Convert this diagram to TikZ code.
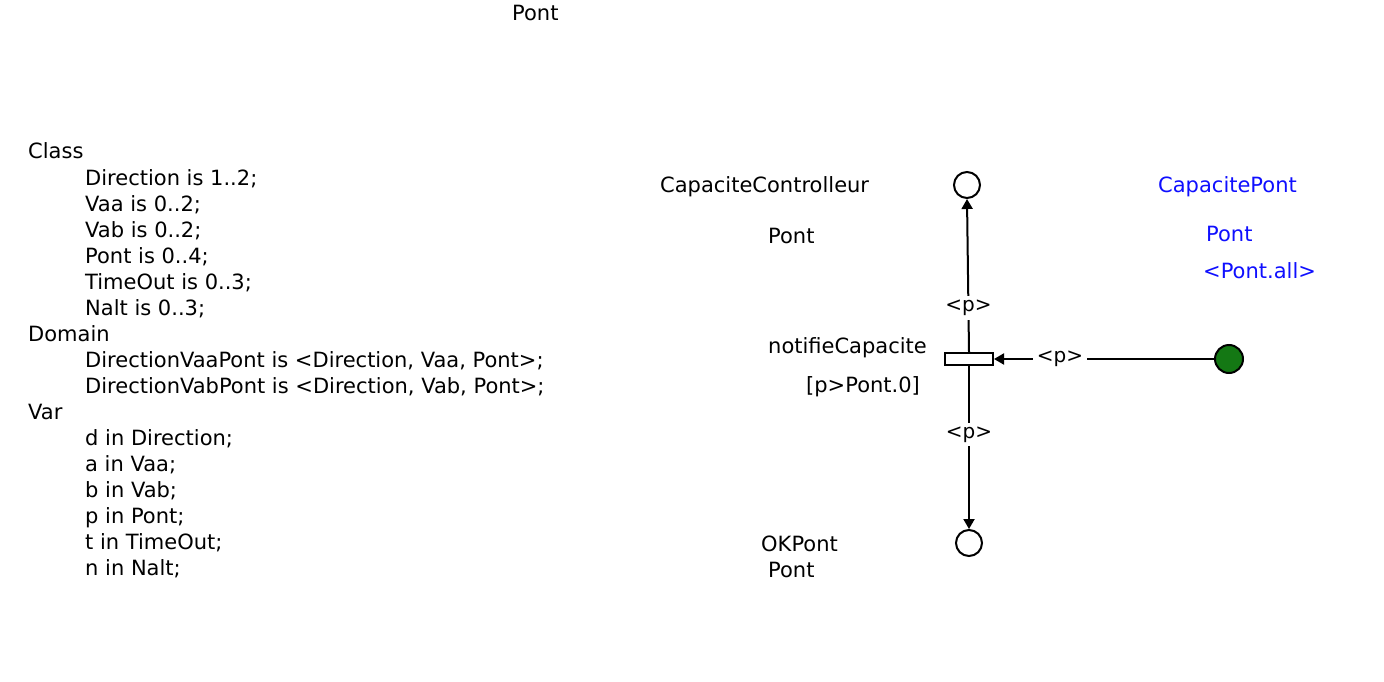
\documentclass[tikz,border=0pt]{standalone}
\usepackage{fontspec}
\setmainfont{DejaVu Sans}
\usepackage{xcolor}
\usetikzlibrary{positioning, arrows.meta}
\definecolor{pnblue}{RGB}{15, 15, 255}
\definecolor{pngreen}{RGB}{20, 120, 20}
\tikzset{
    txt/.style={inner sep=0pt, anchor=base west, font=\fontsize{21}{26}\selectfont},
    bluetxt/.style={txt, text=pnblue},
    place/.style={circle, draw, line width=2pt, minimum size=26pt, inner sep=0pt, fill=white},
    tokenplace/.style={place, fill=pngreen, minimum size=28pt},
    trans/.style={rectangle, draw, line width=2pt, minimum width=48pt, minimum height=12pt, inner sep=0pt, fill=white},
    arc/.style={line width=2pt, -{Triangle[length=10pt, width=11pt]}},
    arclbl/.style={fill=white, inner sep=4pt, font=\fontsize{20}{24}\selectfont}
}

\begin{document}
\begin{tikzpicture}[x=1pt, y=-1pt]
    \useasboundingbox (0,0) rectangle (1384,682);
    % title
    \node[txt] (title) at (512,21) {Pont};
    % declarations
    \foreach \line/\ind [count=\i from 0] in {
        Class/0, {Direction is 1..2;}/1, {Vaa is 0..2;}/1, {Vab is 0..2;}/1,
        {Pont is 0..4;}/1, {TimeOut is 0..3;}/1, {Nalt is 0..3;}/1, Domain/0,
        {DirectionVaaPont is <Direction, Vaa, Pont>;}/1,
        {DirectionVabPont is <Direction, Vab, Pont>;}/1, Var/0,
        {d in Direction;}/1, {a in Vaa;}/1, {b in Vab;}/1, {p in Pont;}/1,
        {t in TimeOut;}/1, {n in Nalt;}/1}
        \node[txt] (decl\i) at (28+57*\ind, 159+26*\i) {\line};

    % places and transition
    \node[place] (capctrl) at (967,185) {};
    \node[tokenplace] (cappont) at (1229,359) {};
    \node[trans] (notif) at (969,359) {};
    \node[place] (okpont) at (969,543) {};

    % labels
    \node[txt] (capctrllbl) at (660,193) {CapaciteControlleur};
    \node[txt] (capctrltype) at (768,243) {Pont};
    \node[bluetxt] (capportlbl) at (1158,193) {CapacitePont};
    \node[bluetxt] (cappointtype) at (1206,241) {Pont};
    \node[bluetxt] (cappontinit) at (1203,278) {<Pont.all>};
    \node[txt] (notiflbl) at (768,353) {notifieCapacite};
    \node[txt] (notifguard) at (806,392) {[p>Pont.0]};
    \node[txt] (oklbl) at (761,551) {OKPont};
    \node[txt] (oktype) at (768,577) {Pont};

    % arcs
    \draw[arc] (notif.north) -- node[arclbl, pos=0.29] {<p>} (capctrl.south);
    \draw[arc] (notif.south) -- node[arclbl, pos=0.42] {<p>} (okpont.north);
    \draw[arc] (cappont.west) -- node[arclbl, pos=0.70] {<p>} (notif.east);
\end{tikzpicture}
\end{document}
